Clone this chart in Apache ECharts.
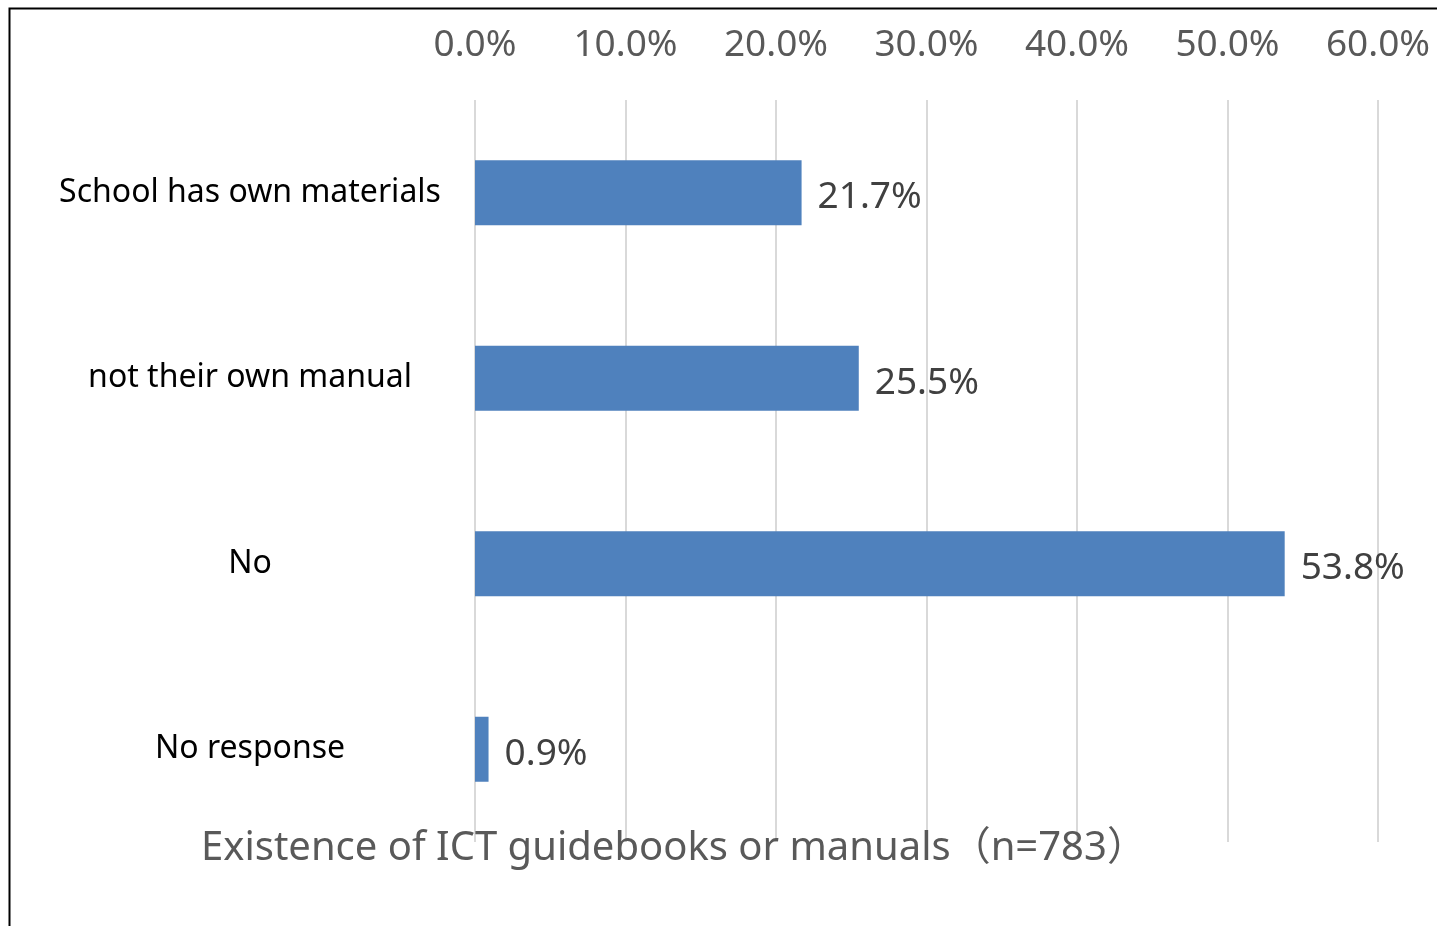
<!DOCTYPE html>
<html>
<head>
<meta charset="utf-8">
<script src="https://cdn.jsdelivr.net/npm/echarts@6/dist/echarts.min.js"></script>
<style>
  html, body { margin: 0; padding: 0; background: #fff; }
  #chart { width: 1437px; height: 926px; }
</style>
</head>
<body>
<div id="chart"></div>
<script>
// survey answers, top to bottom
var categories = ['School has own materials', 'not their own manual', 'No', 'No response'];
var shares = [21.7, 25.5, 53.8, 0.9];
var tickValues = [0, 10, 20, 30, 40, 50, 60];

var chartTitle = 'Existence of ICT guidebooks or manuals（n=783）';

var fontFam = '"Noto Sans", "Noto Sans CJK JP", sans-serif';

var option = {
    animation: false,
    backgroundColor: '#fff',
    title: {
        text: chartTitle,
        left: 196,
        top: 824,
        textStyle: {
            fontFamily: fontFam,
            fontSize: 40,
            fontWeight: 'normal',
            color: '#595959'
        }
    },
    graphic: [{
        type: 'rect',
        shape: {x: 9.5, y: 8.5, width: 1500, height: 1000},
        style: {fill: 'none', stroke: '#000', lineWidth: 2},
        z: 100
    }],
    grid: {
        left: 475,
        right: 59,
        top: 100,
        bottom: 84,
        containLabel: false
    },
    xAxis: {
        type: 'value',
        position: 'top',
        min: tickValues[0],
        max: tickValues[tickValues.length - 1],
        interval: 10,
        axisLine: {show: false},
        axisTick: {show: false},
        splitLine: {
            show: true,
            lineStyle: {color: '#d9d9d9', width: 2}
        },
        axisLabel: {
            margin: 36,
            fontFamily: fontFam,
            fontSize: 37,
            color: '#595959',
            formatter: function (v) {
                return v.toFixed(1) + '%';
            }
        }
    },
    yAxis: {
        type: 'category',
        inverse: true,
        data: categories,
        axisLine: {show: false},
        axisTick: {show: false},
        axisLabel: {
            margin: 225,
            align: 'center',
            fontFamily: fontFam,
            fontSize: 32,
            color: '#000',
            padding: [0, 0, 2, 0]
        }
    },
    series: [{
        name: 'share',
        type: 'bar',
        data: shares,
        barWidth: 65,
        itemStyle: {color: '#4f81bd'},
        label: {
            show: true,
            position: 'right',
            distance: 16,
            offset: [0, 5],
            fontFamily: fontFam,
            fontSize: 37,
            color: '#404040',
            formatter: function (p) {
                return p.value.toFixed(1) + '%';
            }
        }
    }]
};

var chart = echarts.init(document.getElementById('chart'));
chart.setOption(option, true);

window.addEventListener('resize', function () {
    chart.resize();
});
</script>
</body>
</html>
